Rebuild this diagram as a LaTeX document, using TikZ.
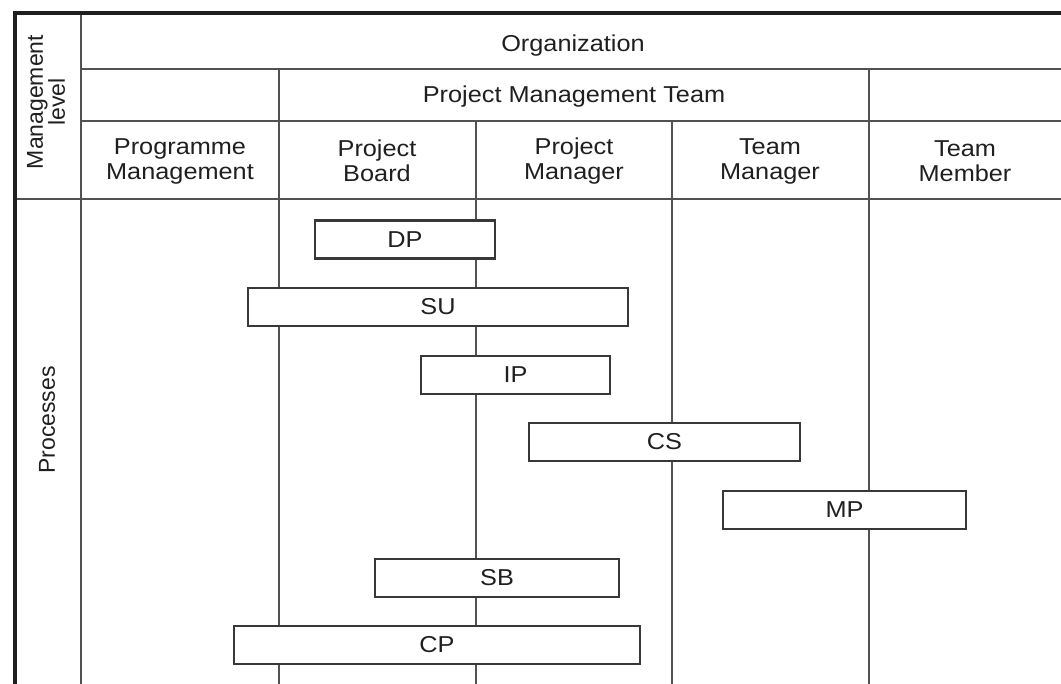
\documentclass[tikz,border=0pt]{standalone}
\usepackage{fontspec}
\setmainfont{Liberation Sans}[FakeStretch=1.1]
\newfontfamily\rotfont{Liberation Sans}
\newcommand{\lbl}{\fontsize{23}{25}\selectfont}
\newcommand{\rotlbl}{\rotfont\fontsize{23}{22}\selectfont}
\begin{document}
\begin{tikzpicture}[x=1pt,y=-1pt,
  gridline/.style={line width=2.5pt,draw=black!68},
  frameline/.style={line width=3.2pt,draw=black!88},
  proc/.style={draw=black!78,line width=2.3pt,fill=white,minimum height=38pt,inner sep=0pt,font=\lbl,text=black!88},
  hdr/.style={align=center,font=\lbl,text=black!88,inner sep=0pt}]
\useasboundingbox (0,0) rectangle (1061,684);
% grid lines
\draw[gridline] (81,13) -- (81,684);
\draw[gridline] (81,69) -- (1061,69);
\draw[gridline] (81,121) -- (1061,121);
\draw[gridline,line width=2.8pt] (15,199) -- (1061,199);
\draw[gridline] (279,69) -- (279,684);
\draw[gridline] (869,69) -- (869,684);
\draw[gridline] (476,121) -- (476,684);
\draw[gridline] (672,121) -- (672,684);
\draw[frameline] (15,684) -- (15,13) -- (1061,13);
% headers
\node[hdr] (org) at (573,46) {Organization};
\node[hdr] (pmt) at (574,97) {Project Management Team};
\node[hdr] (pgm) at (180,161) {Programme\\Management};
\node[hdr] (pb) at (377,161) {Project\\Board};
\node[hdr] (pm) at (574,161) {Project\\Manager};
\node[hdr] (tm) at (770,161) {Team\\Manager};
\node[hdr] (tmem) at (965,161) {Team\\Member};
\node[hdr,rotate=90,font=\rotlbl] (mlevel) at (46,102) {Management\\level};
\node[hdr,rotate=90,font=\rotlbl] (procs) at (47,420) {Processes};
% process boxes
\node[proc,minimum width=180pt] (DP) at (405,239.5) {DP};
\node[proc,minimum width=380pt] (SU) at (438,307) {SU};
\node[proc,minimum width=189pt] (IP) at (515.5,375) {IP};
\node[proc,minimum width=271pt] (CS) at (664.5,442) {CS};
\node[proc,minimum width=243pt] (MP) at (844.5,510) {MP};
\node[proc,minimum width=244pt] (SB) at (497,578) {SB};
\node[proc,minimum width=406pt] (CP) at (437,645) {CP};
\end{tikzpicture}
\end{document}
